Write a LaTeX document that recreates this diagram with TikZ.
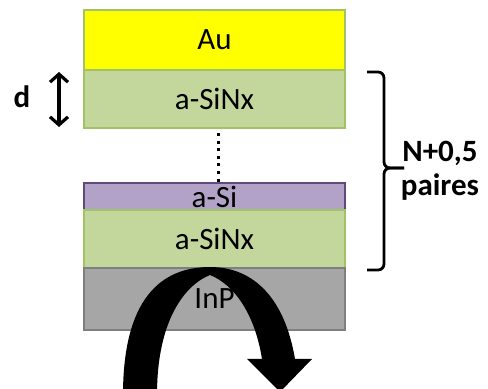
\documentclass[tikz,border=0pt]{standalone}
\usepackage{fontspec}
\setmainfont{Carlito}
\usetikzlibrary{positioning,arrows.meta}
\definecolor{gold}{HTML}{FFFF00}
\definecolor{nitride}{HTML}{C3D69B}
\definecolor{nitrideline}{HTML}{A2C266}
\definecolor{silicon}{HTML}{B3A2C7}
\definecolor{siliconline}{HTML}{604A7B}
\definecolor{substrate}{HTML}{A6A6A6}
\definecolor{substrateline}{HTML}{7F7F7F}
\tikzset{
  layer/.style={draw, line width=1pt, inner sep=0pt, outer sep=0pt,
    minimum width=130.5pt, font=\fontsize{15.5}{18}\selectfont},
  bold label/.style={font=\fontsize{15.5}{17}\selectfont\bfseries, align=center},
  brace/.style={line width=1.4pt, rounded corners=3pt},
}
\begin{document}
\begin{tikzpicture}[x=0.5pt,y=-0.5pt]
    \useasboundingbox (0,0) rectangle (488,389);
    % layer stack
    \node[layer, fill=gold, draw=nitrideline, minimum height=30pt] (au) at (214.5,40) {Au};
    \node[layer, fill=nitride, draw=nitrideline, minimum height=29pt, below=0pt of au] (sinxtop) {a-SiNx};
    \node[layer, fill=silicon, draw=siliconline, minimum height=13.5pt] (asi) at (214.5,196.5) {a-Si};
    \node[layer, fill=nitride, draw=nitrideline, minimum height=29pt, below=0pt of asi] (sinxbot) {a-SiNx};
    \node[layer, fill=substrate, draw=substrateline, minimum height=31pt, below=0pt of sinxbot] (inp) {InP};
    \draw[line width=1.5pt, dash pattern=on 1.5pt off 2.3pt]
      ([xshift=1.75pt,yshift=-2.5pt]sinxtop.south) -- ([xshift=1.75pt]asi.north);
    % thickness d
    \coordinate (dtop) at (59,72);
    \coordinate (dbot) at (59,127);
    \draw[line width=1.6pt, {Straight Barb[length=4pt,width=9pt]}-{Straight Barb[length=4pt,width=9pt]}] (dtop) -- (dbot);
    \node[bold label] (dlabel) at (22,97) {d};
    % bracket
    \coordinate (btop) at (367,72);
    \coordinate (bmid) at (404,168);
    \coordinate (bbot) at (367,270);
    \draw[brace] (btop) -- (384,72) -- (384,168) -- (bmid);
    \draw[brace] (bmid) -- (384,168) -- (384,270) -- (bbot);
    \node[bold label] (pairs) at (440,171) {N+0,5\\paires};
    % curved arrow
    \fill[black] (123,395) .. controls (123,300) and (160,267) .. (210,267)
      .. controls (255,267) and (285,300) .. (295,359)
      -- (312,359) -- (280,392) -- (247,359) -- (262,359)
      .. controls (255,315) and (235,285) .. (210,275)
      .. controls (185,285) and (157,320) .. (157,395) -- cycle;
\end{tikzpicture}
\end{document}
